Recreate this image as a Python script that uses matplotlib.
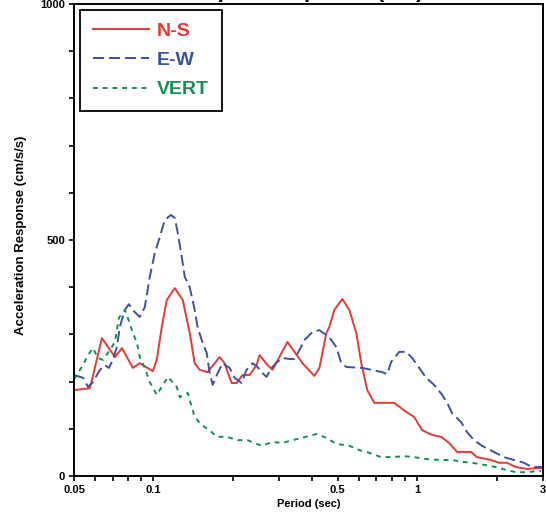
import matplotlib
matplotlib.use("Agg")
import matplotlib.pyplot as plt
from matplotlib.ticker import FixedLocator, MultipleLocator, NullFormatter

plt.rcParams['font.family'] = ['Liberation Sans', 'DejaVu Sans']
plt.rcParams['font.weight'] = 'bold'
plt.rcParams['lines.scale_dashes'] = False

# ---------------- data ----------------
ns_period = [0.050, 0.0575, 0.0638, 0.0715, 0.076, 0.0836, 0.0888, 0.0995, 0.103, 0.1076,
             0.1124, 0.1205, 0.1292, 0.1373, 0.1434, 0.1498, 0.1606, 0.1663, 0.1783, 0.1862,
             0.1979, 0.2067, 0.2178, 0.2315, 0.2461, 0.2526, 0.2708, 0.2829, 0.3224, 0.3674,
             0.4078, 0.426, 0.4527, 0.4646, 0.4854, 0.5204, 0.5531, 0.5878, 0.6141, 0.647,
             0.6877, 0.7373, 0.8185, 0.9088, 0.9744, 1.045, 1.14, 1.233, 1.322, 1.417,
             1.601, 1.686, 1.905, 2.043, 2.19, 2.369, 2.606, 2.894, 3.0]
ns_accel = [182, 186, 292, 252, 271, 229, 239, 222, 246, 316,
            373, 398, 373, 303, 239, 225, 220, 231, 252, 239,
            197, 197, 214, 214, 235, 256, 235, 225, 284, 239,
            212, 229, 303, 316, 352, 375, 352, 303, 239, 182,
            155, 155, 155, 136, 125, 97, 87, 83, 70, 51,
            51, 40, 34, 28, 28, 19, 15, 17, 17]

ew_period = [0.050, 0.0541, 0.0565, 0.059, 0.0627, 0.0655, 0.0678, 0.0702, 0.0727, 0.0746,
             0.078, 0.0807, 0.0851, 0.0888, 0.0928, 0.0969, 0.1012, 0.1057, 0.1104, 0.1164,
             0.1205, 0.1237, 0.1281, 0.1315, 0.1373, 0.1434, 0.1472, 0.1538, 0.1592, 0.1634,
             0.1678, 0.1752, 0.183, 0.1945, 0.2032, 0.2159, 0.2255, 0.2377, 0.2482, 0.257,
             0.2685, 0.2805, 0.2955, 0.3087, 0.328, 0.3427, 0.358, 0.3739, 0.4008, 0.426,
             0.4646, 0.4939, 0.5159, 0.5388, 0.6194, 0.7373, 0.7701, 0.7974, 0.855, 0.9088,
             0.9575, 1.018, 1.082, 1.16, 1.244, 1.299, 1.357, 1.468, 1.546, 1.643,
             1.762, 1.922, 2.133, 2.328, 2.539, 2.722, 2.894, 3.0]
ew_accel = [214, 208, 189, 199, 225, 235, 229, 246, 273, 316,
            352, 364, 347, 337, 358, 422, 472, 506, 542, 553,
            547, 515, 464, 422, 400, 352, 314, 282, 261, 218,
            193, 218, 239, 229, 208, 197, 225, 239, 231, 220,
            210, 229, 242, 250, 248, 248, 267, 288, 305, 309,
            294, 273, 239, 231, 229, 220, 216, 242, 263, 263,
            250, 229, 208, 193, 172, 155, 133, 114, 93, 76,
            64, 53, 40, 34, 28, 19, 19, 19]

vert_period = [0.050, 0.0541, 0.0565, 0.059, 0.0616, 0.0644, 0.0684, 0.0715, 0.0727, 0.074,
               0.078, 0.080, 0.0836, 0.0866, 0.0888, 0.0928, 0.0969, 0.103, 0.1076, 0.1134,
               0.1226, 0.1259, 0.135, 0.1373, 0.1434, 0.1524, 0.1634, 0.1737, 0.1895, 0.2085,
               0.2275, 0.257, 0.2829, 0.3087, 0.3368, 0.3674, 0.415, 0.4527, 0.4939, 0.5531,
               0.6035, 0.6584, 0.731, 0.8044, 0.8931, 0.9744, 1.082, 1.212, 1.357, 1.48,
               1.615, 1.824, 1.99, 2.171, 2.369, 2.652, 2.844, 2.95]
vert_accel = [205, 235, 256, 271, 250, 246, 267, 284, 309, 335,
              352, 335, 303, 282, 252, 229, 199, 172, 189, 210,
              189, 167, 176, 161, 125, 108, 97, 83, 83, 76,
              76, 64, 72, 70, 76, 81, 89, 81, 68, 64,
              55, 49, 40, 40, 42, 40, 36, 34, 34, 30,
              28, 23, 19, 13, 8, 8, 11, 10]

x_ticks = [0.05, 0.1, 0.5, 1, 3]
x_labels = ['0.05', '0.1', '0.5', '1', '3']
x_minor = [0.06, 0.07, 0.08, 0.09, 0.2, 0.3, 0.4, 0.6, 0.7, 0.8, 0.9, 2]
y_ticks = [0, 500, 1000]

# ---------------- plot ----------------
fig = plt.figure(figsize=(5.46, 5.14), dpi=100)
ax = fig.add_axes([74 / 546, 38 / 514, 469 / 546, 472 / 514])

ax.plot(ns_period, ns_accel, color='#e63a35', lw=1.4, label='N-S')
ax.plot(ew_period, ew_accel, color='#3a52a3', lw=1.4, dashes=(8, 3.5), label='E-W')
ax.plot(vert_period, vert_accel, color='#139150', lw=1.4, dashes=(3.5, 3.5), label='VERT')

ax.set_xscale('log')
ax.set_xlim(0.05, 3)
ax.set_ylim(0, 1000)
ax.xaxis.set_major_locator(FixedLocator(x_ticks))
ax.set_xticklabels(x_labels)
ax.xaxis.set_minor_locator(FixedLocator(x_minor))
ax.xaxis.set_minor_formatter(NullFormatter())
ax.set_yticks(y_ticks)
ax.yaxis.set_minor_locator(MultipleLocator(100))

ax.tick_params(which='both', direction='out', length=3.5, width=1.2, labelsize=8, pad=3)
for s in ax.spines.values():
    s.set_linewidth(1.4)

ax.set_xlabel('Period (sec)', fontsize=8, fontweight='bold')
ax.xaxis.set_label_coords(0.5, -0.049)
ax.set_ylabel('Acceleration Response (cm/s/s)', fontsize=9.5, fontweight='bold')
ax.yaxis.set_label_coords(-0.1, 0.51)

leg = ax.legend(loc='upper left', bbox_to_anchor=(0.013, 0.988), borderaxespad=0,
                fancybox=False, framealpha=1, edgecolor='black', labelcolor='linecolor',
                prop={'weight': 'bold', 'size': 14}, handlelength=2.9, handletextpad=0.4,
                labelspacing=0.6, borderpad=0.65)
leg.get_frame().set_linewidth(1.3)

# title is cut off at the top of the original picture
fig.text(0.55, 1.006, 'Response Spectra (5%)', ha='center', va='baseline',
         fontsize=16, fontweight='bold')

fig.savefig('out.png', dpi=100)
